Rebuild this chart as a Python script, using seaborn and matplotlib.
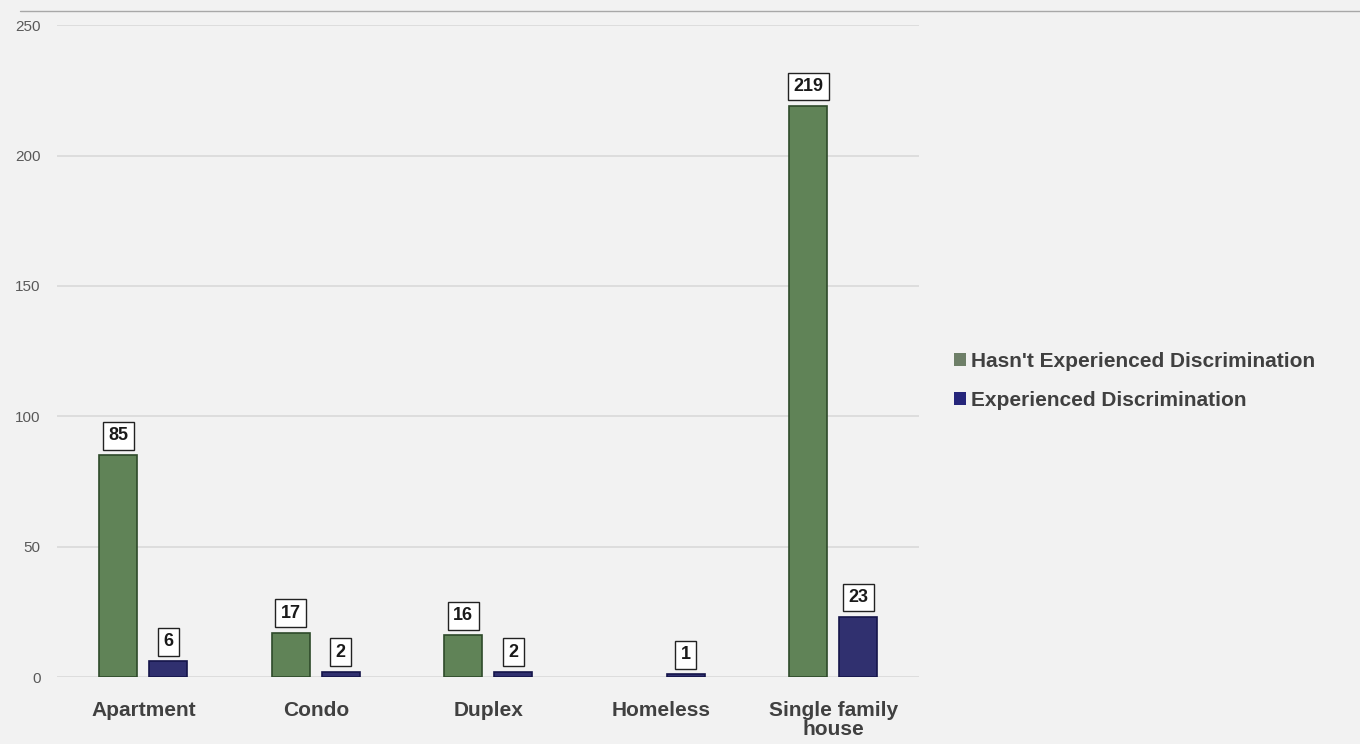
import matplotlib
matplotlib.use('Agg')
import matplotlib.pyplot as plt
from matplotlib.patches import Patch
import seaborn as sns
import pandas as pd

categories = ['Apartment', 'Condo', 'Duplex', 'Homeless', 'Single family\nhouse']
not_experienced = [85, 17, 16, 0, 219]
experienced = [6, 2, 2, 1, 23]
series = ["Hasn't Experienced Discrimination", 'Experienced Discrimination']
colors = ['#5b8a50', '#25257a']

df = pd.DataFrame({
    'category': categories * 2,
    'count': not_experienced + experienced,
    'group': [series[0]] * len(categories) + [series[1]] * len(categories),
})

sns.set_style('white')
plt.rcParams['font.family'] = ['Liberation Sans', 'DejaVu Sans']

fig = plt.figure(figsize=(13.6, 7.44), dpi=100, facecolor='#f2f2f2')
ax = fig.add_axes([0.042, 0.090, 0.634, 0.876])
ax.set_facecolor('#f2f2f2')

sns.barplot(data=df, x='category', y='count', hue='group', hue_order=series,
            palette=colors, width=0.58, gap=0.24, legend=False, ax=ax,
            edgecolor='#2e4a2a', linewidth=1.2)
for cont, ec in zip(ax.containers, ['#2e4a2a', '#15154a']):
    for bar in cont:
        bar.set_edgecolor(ec)
        if bar.get_height() == 0:
            bar.set_linewidth(0)

for cont, vals in zip(ax.containers, [not_experienced, experienced]):
    for bar, v in zip(cont, vals):
        if v == 0:
            continue
        ax.annotate(str(v), (bar.get_x() + bar.get_width() / 2, bar.get_height()),
                    xytext=(0, 8), textcoords='offset points', ha='center', va='bottom',
                    fontsize=13, fontweight='bold', color='#1a1a1a',
                    bbox=dict(boxstyle='square,pad=0.3', fc='white', ec='#222222', lw=1))

ax.set_ylim(0, 250)
ax.set_yticks(range(0, 251, 50))
ax.yaxis.grid(True, color='#d9d9d9', lw=1.2)
ax.set_axisbelow(True)
for s in ax.spines.values():
    s.set_visible(False)
ax.tick_params(axis='y', labelsize=11, labelcolor='#595959', length=0, pad=12)
ax.tick_params(axis='x', labelsize=15, labelcolor='#404040', length=0, pad=17)
for lbl in ax.get_xticklabels():
    lbl.set_fontweight('bold')
    lbl.set_linespacing(1.0)
ax.set_xlabel('')
ax.set_ylabel('')

handles = [Patch(facecolor=c, edgecolor='none') for c in ['#6e7f68', colors[1]]]
leg = fig.legend(handles, series, loc='center left', bbox_to_anchor=(0.688, 0.488),
                 frameon=False, handlelength=0.55, handleheight=0.55, handletextpad=0.25,
                 labelspacing=0.95, prop={'size': 15, 'weight': 'bold'})
for t in leg.get_texts():
    t.set_color('#404040')

fig.add_artist(plt.Line2D([0.015, 1], [0.985, 0.985], color='#a8a8a8', lw=1))

fig.savefig('out.png', dpi=100, facecolor=fig.get_facecolor())
